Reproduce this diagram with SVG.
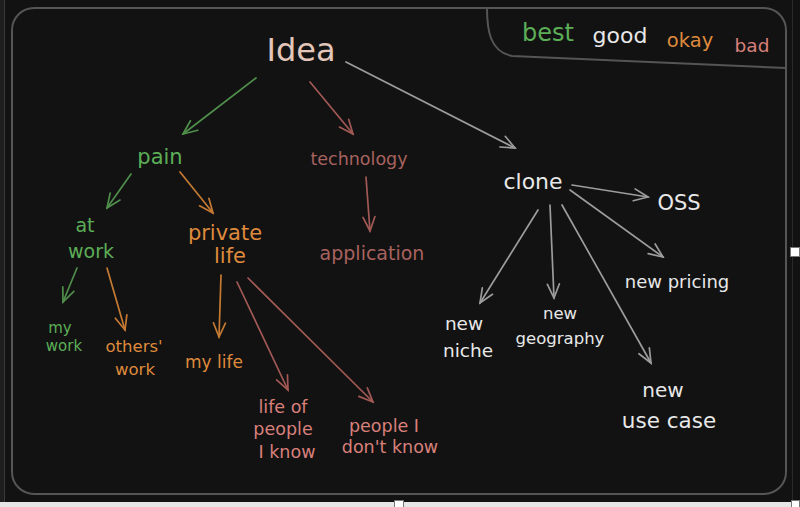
<svg xmlns="http://www.w3.org/2000/svg" width="800" height="507" viewBox="0 0 800 507">
<defs>
<style>
text{font-family:"DejaVu Sans","Noto Sans",sans-serif;text-anchor:middle}
.g{fill:#5cae57}.o{fill:#df8a3c}.r{fill:#a8625f}.p{fill:#d9807b}.w{fill:#e8e8e8}
.c line{fill:none;stroke-width:1.7;stroke-linecap:round}
.lg{stroke:#4f8e4b}.lo{stroke:#c57a33}.lr{stroke:#a25955}.lw{stroke:#9c9c9c}
</style>
<marker id="mg" viewBox="-16 -8 18 16" refX="0" refY="0" markerWidth="18" markerHeight="16" markerUnits="userSpaceOnUse" orient="auto"><path d="M-14,-6 L0,0 L-14,6" fill="none" stroke="#4f8e4b" stroke-width="1.7" stroke-linecap="round"/></marker>
<marker id="mo" viewBox="-16 -8 18 16" refX="0" refY="0" markerWidth="18" markerHeight="16" markerUnits="userSpaceOnUse" orient="auto"><path d="M-14,-6 L0,0 L-14,6" fill="none" stroke="#c57a33" stroke-width="1.7" stroke-linecap="round"/></marker>
<marker id="mr" viewBox="-16 -8 18 16" refX="0" refY="0" markerWidth="18" markerHeight="16" markerUnits="userSpaceOnUse" orient="auto"><path d="M-14,-6 L0,0 L-14,6" fill="none" stroke="#a25955" stroke-width="1.7" stroke-linecap="round"/></marker>
<marker id="mw" viewBox="-16 -8 18 16" refX="0" refY="0" markerWidth="18" markerHeight="16" markerUnits="userSpaceOnUse" orient="auto"><path d="M-14,-6 L0,0 L-14,6" fill="none" stroke="#9c9c9c" stroke-width="1.7" stroke-linecap="round"/></marker>
</defs>
<rect x="0" y="0" width="800" height="507" fill="#121212"/>
<rect x="0" y="0" width="4" height="502" fill="#1e1e1e"/>
<line x1="4.5" y1="0" x2="4.5" y2="502" stroke="#3a3a3a" stroke-width="1"/>
<line x1="792.5" y1="0" x2="792.5" y2="502" stroke="#2a2a2a" stroke-width="1"/>
<rect x="0" y="502" width="800" height="5" fill="#e6e6e6"/>
<rect x="12" y="8" width="774" height="486" rx="22" ry="22" fill="none" stroke="#555" stroke-width="2"/>
<path d="M487,8 C487,30 490,52 512,56 L786,68" fill="none" stroke="#555" stroke-width="2"/>
<rect x="790.5" y="247.5" width="9" height="9" fill="#fff" stroke="#777" stroke-width="1"/>
<rect x="394.5" y="500.5" width="9" height="7" fill="#fff" stroke="#777" stroke-width="1"/>
<rect x="791.5" y="500.5" width="8" height="7" fill="#fff" stroke="#777" stroke-width="1"/>

<g id="legend">
<text x="548" y="41" font-size="24" class="g">best</text>
<text x="620" y="43" font-size="22" class="w">good</text>
<text x="690" y="47" font-size="19.5" class="o">okay</text>
<text x="752" y="52" font-size="18.5" class="p">bad</text>
</g>

<g class="c" id="connectors">
<line class="lg" x1="256" y1="78" x2="183" y2="134" marker-end="url(#mg)"/>
<line class="lr" x1="310" y1="82" x2="353" y2="134" marker-end="url(#mr)"/>
<line class="lw" x1="346" y1="62" x2="515" y2="148" marker-end="url(#mw)"/>
<line class="lg" x1="131" y1="174" x2="107" y2="208" marker-end="url(#mg)"/>
<line class="lo" x1="180" y1="172" x2="213" y2="213" marker-end="url(#mo)"/>
<line class="lr" x1="366" y1="177" x2="370" y2="231" marker-end="url(#mr)"/>
<line class="lg" x1="77" y1="268" x2="63" y2="302" marker-end="url(#mg)"/>
<line class="lo" x1="107" y1="268" x2="125" y2="330" marker-end="url(#mo)"/>
<line class="lo" x1="221" y1="275" x2="219" y2="337" marker-end="url(#mo)"/>
<line class="lr" x1="237" y1="282" x2="288" y2="390" marker-end="url(#mr)"/>
<line class="lr" x1="248" y1="278" x2="373" y2="402" marker-end="url(#mr)"/>
<line class="lw" x1="572" y1="185" x2="648" y2="197" marker-end="url(#mw)"/>
<line class="lw" x1="570" y1="190" x2="663" y2="257" marker-end="url(#mw)"/>
<line class="lw" x1="538" y1="210" x2="480" y2="303" marker-end="url(#mw)"/>
<line class="lw" x1="550" y1="205" x2="554" y2="298" marker-end="url(#mw)"/>
<line class="lw" x1="562" y1="205" x2="651" y2="363" marker-end="url(#mw)"/>
</g>

<g id="idea"><text x="301" y="61" font-size="32" fill="#e3c6b9">Idea</text></g>
<g id="pain"><text x="160" y="164" font-size="21" class="g">pain</text></g>
<g id="technology"><text x="359" y="165" font-size="17.5" class="r">technology</text></g>
<g id="clone"><text x="533" y="189" font-size="22" class="w">clone</text></g>
<g id="at-work"><text x="85" y="232" font-size="19" class="g">at</text><text x="91" y="258" font-size="19" class="g">work</text></g>
<g id="private-life"><text x="225" y="240" font-size="21" class="o">private</text><text x="230" y="263" font-size="21" class="o">life</text></g>
<g id="application"><text x="372" y="260" font-size="19" class="r">application</text></g>
<g id="my-work"><text x="60" y="333" font-size="15" class="g">my</text><text x="64" y="351" font-size="15" class="g">work</text></g>
<g id="others-work"><text x="134" y="352" font-size="16.5" class="o">others'</text><text x="135" y="375" font-size="16.5" class="o">work</text></g>
<g id="my-life"><text x="214" y="368" font-size="17" class="o">my life</text></g>
<g id="life-of-people"><text x="283" y="413" font-size="17.5" class="p">life of</text><text x="283" y="435" font-size="17.5" class="p">people</text><text x="287" y="458" font-size="17.5" class="p">I know</text></g>
<g id="people-dont-know"><text x="384" y="432" font-size="17.5" class="p">people I</text><text x="390" y="453" font-size="17.5" class="p">don't know</text></g>
<g id="oss"><text x="679" y="210" font-size="21" class="w">OSS</text></g>
<g id="new-pricing"><text x="677" y="288" font-size="18" class="w">new pricing</text></g>
<g id="new-niche"><text x="464" y="330" font-size="18.5" class="w">new</text><text x="468" y="357" font-size="18.5" class="w">niche</text></g>
<g id="new-geography"><text x="560" y="319" font-size="16.5" class="w">new</text><text x="560" y="344" font-size="16.5" class="w">geography</text></g>
<g id="new-use-case"><text x="663" y="397" font-size="20" class="w">new</text><text x="669" y="428" font-size="21.5" class="w">use case</text></g>
</svg>
